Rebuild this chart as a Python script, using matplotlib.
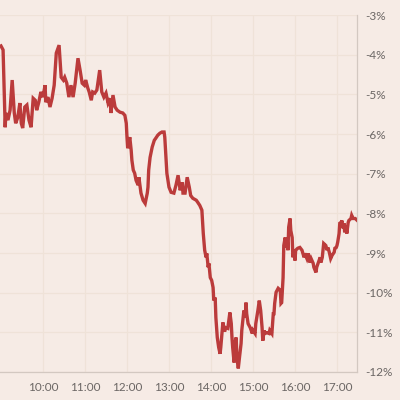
import matplotlib
matplotlib.use("Agg")
import matplotlib.pyplot as plt
from matplotlib.ticker import FixedLocator, FuncFormatter

BG, LINE, GRID, SPINE, TXT = "#f6ebe5", "#bb3b3b", "#efe2d8", "#d3c8c1", "#6b6664"

# minutes after 09:00, and percentage change
minutes = [
    0, 3, 6, 7, 10, 13, 16, 19, 21, 24, 27, 29, 31, 34, 37, 40, 43, 46, 49, 51,
    54, 57, 60, 63, 64, 67, 70, 73, 76, 79, 83, 86, 89, 91, 94, 97, 100, 103,
    106, 110, 113, 116, 119, 121, 124,
    126, 129, 131, 134, 137, 141, 144, 147, 150, 153, 156, 157, 160, 163, 166,
    170, 174, 177, 179, 180, 181, 184, 186, 187, 189, 191, 193, 196, 197, 200,
    203, 206, 209, 210, 211, 213, 216, 219, 221, 224, 227, 230, 233, 234, 236,
    237, 240, 243,
    247, 250, 253, 256, 259, 260, 263, 266, 269, 271, 274, 279, 281, 284, 287,
    289, 291, 293, 294, 296, 297, 299, 301, 303, 304, 306, 307, 309, 311, 313,
    314, 316, 317, 319, 320, 321, 324, 327, 329, 330, 331, 333, 334, 336, 337,
    339, 340, 341, 343, 344, 346, 347, 349, 350, 351, 353, 356, 359, 360, 363,
    364, 367, 369, 371, 373, 374, 376, 377, 380, 383, 384, 387, 389, 390, 391,
    393, 396, 399, 400, 401, 403, 404, 406, 407, 409, 410, 411, 413, 414, 416,
    417, 419, 420, 421, 424, 427, 430, 433, 434, 437, 439, 441, 443, 446, 447,
    450, 451, 453, 456, 457, 459, 460, 461, 464, 466, 467, 469, 470, 471, 473,
    476, 477, 479, 480, 481, 483, 484, 486, 487, 489, 490, 491, 493, 494, 496,
    497, 500, 501, 503, 506, 509,
]
change = [
    -3.78, -3.88, -5.83, -5.47, -5.65, -5.40, -4.64, -5.47, -5.73, -5.58, -5.22,
    -5.73, -5.85, -5.32, -5.27, -5.65, -5.83, -5.10, -5.15, -5.40, -5.20, -4.94,
    -5.07, -4.77, -5.20, -5.07, -5.32, -5.10, -4.77, -3.96, -3.76, -4.57, -4.64,
    -4.57, -4.72, -5.07, -4.77, -5.07, -4.72, -4.09, -4.39, -4.72, -4.77, -4.64,
    -4.84,
    -4.94, -5.15, -4.94, -4.97, -4.89, -4.39, -4.94, -5.07, -4.97, -5.22, -5.10,
    -5.47, -5.02, -5.32, -5.40, -5.45, -5.47, -5.53, -5.73, -6.08, -6.36, -6.08,
    -6.41, -6.66, -6.91, -6.99, -7.17, -7.29, -7.09, -7.49, -7.67, -7.75, -7.49,
    -7.34, -6.91, -6.59, -6.33, -6.16, -6.11, -6.03, -5.98, -5.95, -5.95, -6.08,
    -6.66, -6.99, -7.34, -7.47,
    -7.49, -7.29, -7.04, -7.42, -7.22, -7.49, -7.49, -7.09, -7.34, -7.55, -7.62,
    -7.67, -7.72, -7.80, -7.92,
    -8.51, -8.93, -9.11, -9.01, -9.36, -9.26, -9.62, -9.69, -9.87, -10.20,
    -10.12, -10.63, -11.13, -11.38, -11.54, -11.38, -10.95, -10.75, -10.95,
    -10.95, -10.88, -10.90, -10.50, -10.78, -11.13, -11.38, -11.76, -11.28,
    -11.13, -11.64, -11.91, -11.76, -11.59, -11.28, -10.95, -10.63, -10.45,
    -10.63, -10.25, -10.53, -10.78, -10.88, -11.03, -10.95, -11.03, -10.78,
    -10.45, -10.20, -10.45, -10.88, -11.21, -10.95, -11.03, -11.01, -11.03,
    -10.95, -11.03, -10.53, -10.53, -10.27,
    -9.99, -9.89, -9.94, -10.27, -10.25, -9.62, -8.81, -8.61, -8.86, -8.68,
    -8.93, -8.35, -8.13, -8.43, -8.61, -9.11, -8.93, -9.19, -8.93, -8.88, -8.86,
    -8.93, -9.11, -9.01, -9.14, -9.01, -9.24, -9.14, -9.26, -9.36, -9.49, -9.36,
    -9.26, -9.11, -9.24, -9.11, -8.93, -8.76, -8.81, -8.93, -8.86, -8.98, -9.06,
    -9.14, -9.06, -8.98, -8.88, -8.86, -8.81, -8.73, -8.51, -8.25, -8.23, -8.18,
    -8.38, -8.25, -8.48, -8.30, -8.51, -8.23, -8.18, -8.13, -8.05, -8.13, -8.13,
    -8.18,
]

hour_ticks = [60, 120, 180, 240, 300, 360, 420, 480]
hour_labels = ["10:00", "11:00", "12:00", "13:00", "14:00", "15:00", "16:00", "17:00"]
pct_ticks = [-12, -11, -10, -9, -8, -7, -6, -5, -4, -3]

plt.rcParams["font.family"] = ["Lato", "DejaVu Sans"]

fig = plt.figure(figsize=(4, 4), dpi=100, facecolor=BG)
ax = fig.add_axes([0.0, 0.07, 0.8925, 0.8925])
ax.set_facecolor(BG)

ax.plot(minutes, change, color=LINE, lw=2.4, solid_joinstyle="miter", zorder=3)

ax.set_xlim(-1.4, 508.6)
ax.set_ylim(-12, -3)
ax.xaxis.set_major_locator(FixedLocator(hour_ticks))
ax.set_xticklabels(hour_labels)
ax.yaxis.set_major_locator(FixedLocator(pct_ticks))
ax.yaxis.set_major_formatter(FuncFormatter(lambda v, _: f"-{abs(int(v))}%"))
ax.yaxis.tick_right()

ax.grid(True, color=GRID, lw=0.9, zorder=0)
ax.set_axisbelow(True)
for s in ("top", "left"):
    ax.spines[s].set_visible(False)
for s in ("right", "bottom"):
    ax.spines[s].set_color(SPINE)
    ax.spines[s].set_linewidth(0.9)
ax.tick_params(axis="both", length=0, colors=TXT, labelsize=8.5)
ax.tick_params(axis="y", pad=6)
ax.tick_params(axis="x", pad=7)

fig.savefig("out.png", dpi=100, facecolor=BG)
